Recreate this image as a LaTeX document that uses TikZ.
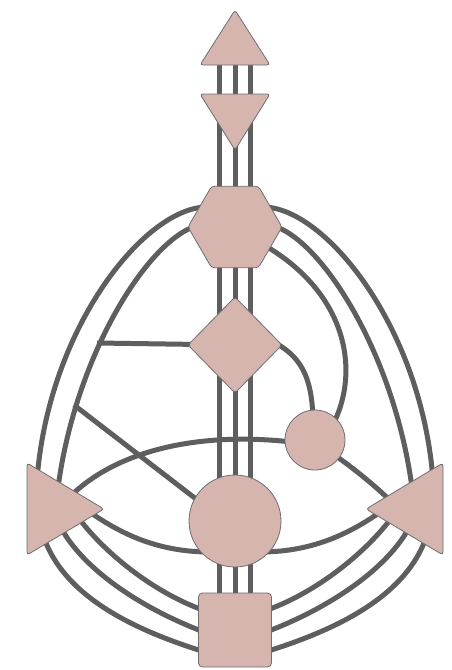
\documentclass[tikz,border=0pt]{standalone}
\usepackage{tikz}
\usetikzlibrary{shapes.geometric, backgrounds}
\definecolor{Rose}{HTML}{D6B5AF}
\definecolor{Slate}{HTML}{5E5E5E}
\definecolor{Rim}{HTML}{6E6E6E}

\begin{document}
\begin{tikzpicture}[x=1pt, y=-1pt,
  hub/.style={draw=Rim, fill=Rose, line width=0.8pt, inner sep=0pt, outer sep=0pt, rounded corners=3pt},
  tri/.style={hub, isosceles triangle, isosceles triangle stretches},
  chan/.style={draw=Slate, line width=5pt}]
  \useasboundingbox (0,0) rectangle (451,670);

  \node[tri, shape border rotate=90, minimum width=70, minimum height=55, anchor=apex] (head) at (235,10) {};
  \node[tri, shape border rotate=270, minimum width=70, minimum height=56, anchor=apex] (ajna) at (235,150) {};
  \node[hub, regular polygon, regular polygon sides=6, minimum size=94] (throat) at (235,227) {};
  \node[hub, diamond, minimum width=94, minimum height=96] (gcenter) at (235,345) {};
  \node[hub, circle, minimum size=60] (heart) at (315,440) {};
  \node[hub, circle, minimum size=92] (sacral) at (235,521) {};
  \node[tri, shape border rotate=0, minimum width=92, minimum height=77, anchor=apex] (spleen) at (104,509) {};
  \node[tri, shape border rotate=180, minimum width=92, minimum height=77, anchor=apex] (plexus) at (366,509) {};
  \node[hub, rectangle, rounded corners=4pt, minimum width=73, minimum height=74] (root) at (235,630) {};

  \begin{scope}[on background layer]
    \coordinate (gate10) at (97,343);
    \coordinate (gate57) at (74,405);
    \foreach \d in {-16,0,15} {
      \draw[chan] ([shift={(\d,30)}]head.apex) -- ([xshift=\d]root.center);
    }
    % left arcs
    \draw[chan] ([shift={(-30,-20)}]throat.center) .. controls (140,210) and (40,340) .. ([shift={(-68,-9)}]spleen.apex);
    \draw[chan] ([shift={(-35,-2)}]throat.center) .. controls (150,235) and (70,360) .. ([shift={(-48,-4)}]spleen.apex);
    \draw[chan] (gcenter.center) -- (gate10);
    \draw[chan] (gate57) -- ([yshift=-8]sacral.center);
    \draw[chan] ([shift={(-42,-4)}]spleen.apex) .. controls (110,450) and (200,430) .. ([shift={(-15,3)}]heart.center);
    \draw[chan] ([shift={(-24,-4)}]spleen.apex) .. controls (120,535) and (160,553) .. ([shift={(-20,31)}]sacral.center);
    \draw[chan] ([shift={(-66,1)}]spleen.apex) .. controls (45,590) and (130,630) .. ([shift={(-20,25)}]root.center);
    \draw[chan] ([shift={(-52,-4)}]spleen.apex) .. controls (65,560) and (140,610) .. ([shift={(-20,6)}]root.center);
    \draw[chan] ([shift={(-34,-4)}]spleen.apex) .. controls (90,540) and (150,595) .. ([shift={(-20,-16)}]root.center);
    % right arcs
    \draw[chan] ([shift={(30,-20)}]throat.center) .. controls (330,210) and (430,340) .. ([shift={(68,-9)}]plexus.apex);
    \draw[chan] ([shift={(35,-2)}]throat.center) .. controls (320,235) and (400,360) .. ([shift={(48,-4)}]plexus.apex);
    \draw[chan] ([shift={(20,13)}]throat.center) .. controls (350,290) and (362,375) .. ([shift={(15,-10)}]heart.center);
    \draw[chan] ([shift={(35,-5)}]gcenter.center) .. controls (300,355) and (313,375) .. ([shift={(-2,-15)}]heart.center);
    \draw[chan] ([shift={(5,5)}]heart.center) .. controls (350,465) and (375,485) .. ([shift={(34,1)}]plexus.apex);
    \draw[chan] ([shift={(20,31)}]sacral.center) .. controls (310,553) and (350,535) .. ([shift={(24,-4)}]plexus.apex);
    \draw[chan] ([shift={(66,1)}]plexus.apex) .. controls (425,590) and (340,630) .. ([shift={(20,25)}]root.center);
    \draw[chan] ([shift={(52,-4)}]plexus.apex) .. controls (405,560) and (330,610) .. ([shift={(20,6)}]root.center);
    \draw[chan] ([shift={(34,-4)}]plexus.apex) .. controls (380,540) and (320,595) .. ([shift={(20,-16)}]root.center);
  \end{scope}
\end{tikzpicture}
\end{document}
